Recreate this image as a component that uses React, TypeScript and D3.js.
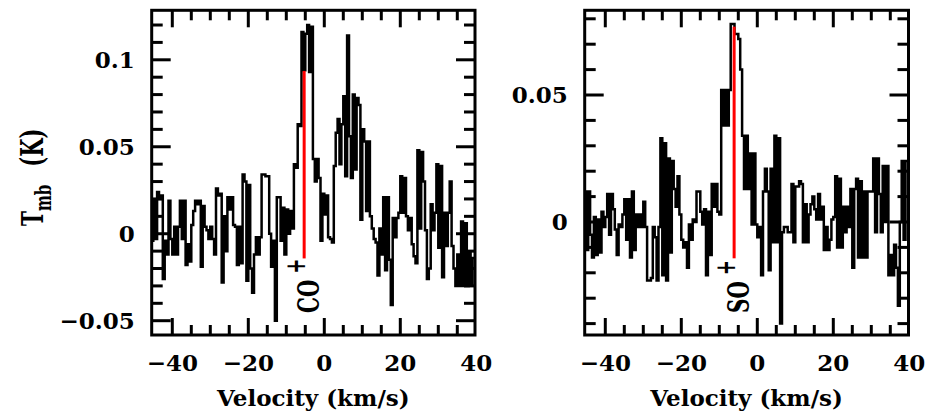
import React from 'react';
import * as d3 from 'd3';

const velocityStart = -45.5;
const channelWidth = 0.5;

const coValues = [
  -0.004, 0.019, -0.003, 0.024, 0.020, 0.022, -0.026, -0.004, -0.012, 0.019,
  -0.003, -0.012, 0.004, -0.012, 0.004, 0.019, -0.003, 0.019, -0.018, -0.006,
  -0.016, 0.005, 0.013, 0.019, 0.017, 0.019, -0.019, 0.016, 0.004, 0.002,
  -0.003, 0.004, -0.003, -0.012, 0.026, 0.022, 0.023, -0.028, 0.010, -0.010,
  0.021, 0.014, 0.021, 0.005, 0.004, -0.018, 0.004, -0.017, 0.034, 0.030,
  -0.027, 0.028, -0.020, -0.034, -0.012, -0.002, -0.012, -0.002, 0.034, 0.034,
  0.033, 0.033, 0.000, -0.019, -0.004, -0.050, 0.021, 0.021, -0.004, 0.015,
  -0.012, 0.014, 0.000, 0.013, 0.003, 0.040, 0.038, 0.063, 0.062, 0.116,
  0.094, 0.115, 0.120, 0.093, 0.119, 0.043, 0.030, 0.043, 0.032, -0.004,
  0.023, 0.011, 0.022, -0.002, -0.003, -0.005, 0.039, 0.058, 0.066, 0.040,
  0.063, 0.079, 0.033, 0.114, 0.056, 0.032, 0.080, 0.037, 0.078, 0.074,
  0.008, 0.060, 0.053, 0.013, 0.053, 0.010, 0.003, -0.003, -0.005, -0.024,
  0.003, -0.012, 0.021, -0.021, 0.021, -0.015, -0.041, 0.009, -0.002, 0.009,
  0.012, 0.033, 0.012, 0.032, 0.010, 0.002, 0.009, -0.006, -0.013, -0.017,
  0.048, 0.003, 0.047, 0.030, 0.002, -0.026, -0.020, 0.017, 0.002, 0.012,
  0.040, -0.008, 0.039, -0.025, 0.012, -0.007, 0.012, 0.030, -0.007, -0.020,
  -0.030, -0.012, -0.030, 0.007, -0.030, 0.006, -0.030, -0.010, -0.029, -0.014,
];

const soValues = [
  0.012, -0.011, 0.012, -0.005, -0.014, 0.002, -0.013, 0.001, -0.012, 0.004,
  -0.002, 0.002, 0.011, -0.005, 0.011, 0.005, -0.003, -0.013, -0.001, -0.002,
  0.003, 0.009, -0.007, 0.009, -0.014, 0.012, -0.011, 0.003, -0.002, 0.003,
  -0.002, 0.008, -0.002, -0.023, -0.023, -0.022, -0.002, -0.006, -0.023, -0.002,
  0.033, -0.021, 0.031, -0.023, 0.025, -0.012, 0.024, 0.013, 0.006, 0.018,
  0.003, -0.007, -0.010, -0.008, -0.018, -0.001, -0.007, 0.001, 0.000, 0.012,
  0.012, 0.004, -0.001, 0.005, -0.021, 0.004, -0.013, 0.015, 0.006, 0.015,
  0.004, 0.003, 0.052, 0.038, 0.052, 0.038, 0.052, 0.078, 0.078, 0.074,
  0.074, 0.072, 0.060, 0.034, 0.013, 0.034, 0.013, 0.027, -0.001, 0.027,
  -0.001, -0.006, -0.002, -0.021, 0.012, 0.021, 0.012, -0.019, 0.021, -0.008,
  0.034, -0.008, 0.033, -0.040, -0.004, -0.002, -0.002, -0.004, -0.004, 0.015,
  -0.008, 0.014, 0.014, 0.016, 0.015, -0.008, 0.007, -0.008, 0.003, 0.007,
  0.010, 0.005, 0.001, 0.011, 0.001, 0.006, -0.011, -0.002, -0.011, -0.007,
  0.001, 0.002, 0.018, -0.010, 0.017, -0.010, 0.006, -0.004, 0.006, -0.002,
  0.013, -0.018, 0.013, 0.017, -0.014, 0.016, -0.014, 0.012, -0.014, 0.012,
  0.012, 0.012, 0.025, -0.004, 0.025, 0.011, -0.004, 0.022, 0.000, 0.022,
  -0.021, -0.013, -0.021, -0.009, -0.018, -0.033, 0.000, 0.024, -0.007, 0.024,
  0.024,
];

const xTickLabels = [-40, -20, 0, 20, 40];
const coYTickLabels = [-0.05, 0, 0.05, 0.1];
const soYTickLabels = [0, 0.05];
const coMarker = { velocity: -5.3, top: 0.0936, bottom: -0.0142, species: 'CO' };
const soMarker = { velocity: -6.1, top: 0.0769, bottom: -0.0143, species: 'SO' };

const FONT = "'DejaVu Serif', serif";

type PanelProps = {
  left: number; right: number; top: number; bottom: number;
  xRange: [number, number];
  yDomain: [number, number]; yRange: [number, number];
  values: number[];
  yLabels: number[];
  marker: { velocity: number; top: number; bottom: number; species: string };
  id: string;
};

const fmt = (v: number) => {
  const s = String(Math.round(v * 1000) / 1000);
  return s.replace('-', '\u2212');
};

function Panel(p: PanelProps) {
  const x = d3.scaleLinear().domain([-40, 40]).range(p.xRange);
  const y = d3.scaleLinear().domain(p.yDomain).range(p.yRange);
  const pts: [number, number][] = [];
  p.values.forEach((v, i) => {
    const v0 = velocityStart + i * channelWidth;
    pts.push([x(v0), y(v)], [x(v0 + channelWidth), y(v)]);
  });
  const path = d3.line()(pts) || '';

  const vMin = x.invert(p.left), vMax = x.invert(p.right);
  const xTicks = d3.range(-45, 45.01, 5).filter(v => x(v) > p.left + 3 && x(v) < p.right - 3);
  const yMin = y.invert(p.bottom), yMax = y.invert(p.top);
  const yTicks = d3.range(-0.1, 0.15, 0.01).map(v => Math.round(v * 100) / 100)
    .filter(v => y(v) < p.bottom - 3 && y(v) > p.top + 3);
  const isMajorX = (v: number) => Math.abs(v % 20) < 1e-6;
  const isMajorY = (v: number) => Math.abs(Math.round(v * 100) % 5) === 0;

  const lx = x(p.marker.velocity);
  const baseX = lx + 14.5;
  const startY = 313;

  return (
    <g>
      <defs>
        <clipPath id={p.id}>
          <rect x={p.left} y={p.top} width={p.right - p.left} height={p.bottom - p.top} />
        </clipPath>
      </defs>
      <path d={path} fill="none" stroke="#000" strokeWidth={2.5} clipPath={`url(#${p.id})`} />
      <line x1={lx} x2={lx} y1={y(p.marker.top)} y2={y(p.marker.bottom)} stroke="#ff0000" strokeWidth={3} />
      {xTicks.map(v => {
        const len = isMajorX(v) ? 17 : 10;
        return (
          <g key={'xt' + v}>
            <line x1={x(v)} x2={x(v)} y1={p.bottom} y2={p.bottom - len} stroke="#000" strokeWidth={3} />
            <line x1={x(v)} x2={x(v)} y1={p.top} y2={p.top + len} stroke="#000" strokeWidth={3} />
          </g>
        );
      })}
      {yTicks.map(v => {
        const len = isMajorY(v) ? 19 : 11;
        return (
          <g key={'yt' + v}>
            <line x1={p.left} x2={p.left + len} y1={y(v)} y2={y(v)} stroke="#000" strokeWidth={3} />
            <line x1={p.right} x2={p.right - len} y1={y(v)} y2={y(v)} stroke="#000" strokeWidth={3} />
          </g>
        );
      })}
      <rect x={p.left} y={p.top} width={p.right - p.left} height={p.bottom - p.top} fill="none" stroke="#000" strokeWidth={3} />
      {xTickLabels.filter(v => v >= vMin - 1 && v <= vMax + 1).map(v => (
        <text key={'xl' + v} x={x(v)} y={371} textAnchor="middle" fontFamily={FONT} fontWeight="bold" fontSize={23}>{fmt(v)}</text>
      ))}
      {p.yLabels.filter(v => v >= yMin && v <= yMax).map(v => (
        <text key={'yl' + v} x={p.left - 17} y={y(v) + 8} textAnchor="end" fontFamily={FONT} fontWeight="bold" fontSize={23}>{fmt(v)}</text>
      ))}
      <text x={(p.left + p.right) / 2} y={406} textAnchor="middle" fontFamily={FONT} fontWeight="bold" fontSize={23}>Velocity (km/s)</text>
      <text transform={`translate(${baseX},${startY}) rotate(-90) scale(1,1.5)`} fontFamily={FONT} fontWeight="bold" fontSize={20}>
        {p.marker.species}
        <tspan dx={6} dy={-9} fontSize={18}>+</tspan>
      </text>
    </g>
  );
}

export default function App() {
  return (
    <svg width={933} height={418} style={{ position: 'absolute', left: 0, top: 0, background: '#fff' }}>
      <rect x={0} y={0} width={933} height={418} fill="#fff" />
      <Panel id="clipCO" left={151.7} right={475} top={10.3} bottom={335}
        xRange={[172.3, 476.3]} yDomain={[-0.05, 0.1]} yRange={[320.7, 59.8]}
        values={coValues} yLabels={coYTickLabels} marker={coMarker} />
      <Panel id="clipSO" left={584.7} right={908.5} top={10.3} bottom={335}
        xRange={[605.3, 909.3]} yDomain={[0, 0.05]} yRange={[222, 95]}
        values={soValues} yLabels={soYTickLabels} marker={soMarker} />
      <text transform="translate(43,226) rotate(-90) scale(1,1.5)" fontFamily={FONT} fontWeight="bold" fontSize={20}>
        T<tspan fontSize={15} dy={5}>mb</tspan><tspan dx={18} dy={-5} fontSize={21}>(K)</tspan>
      </text>
    </svg>
  );
}
